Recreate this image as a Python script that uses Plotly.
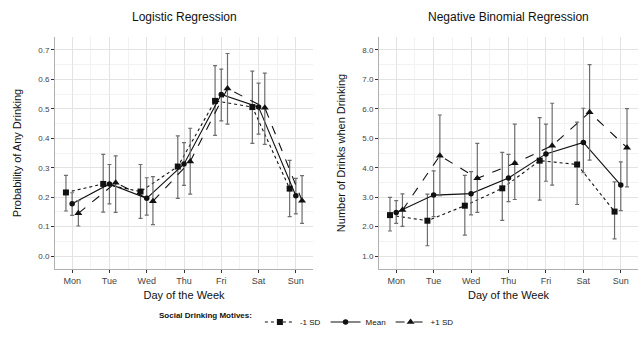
import plotly.graph_objects as go

days = ["Mon", "Tue", "Wed", "Thu", "Fri", "Sat", "Sun"]
series_names = ["-1 SD", "Mean", "+1 SD"]

# Logistic regression: probability of any drinking
low_p = [0.216, 0.245, 0.219, 0.304, 0.527, 0.506, 0.229]
low_p_lo = [0.153, 0.149, 0.128, 0.196, 0.410, 0.383, 0.134]
low_p_hi = [0.274, 0.345, 0.311, 0.408, 0.647, 0.628, 0.325]
mean_p = [0.178, 0.245, 0.196, 0.313, 0.549, 0.506, 0.205]
mean_p_lo = [0.138, 0.177, 0.139, 0.240, 0.459, 0.414, 0.143]
mean_p_hi = [0.215, 0.311, 0.266, 0.385, 0.635, 0.587, 0.264]
high_p = [0.145, 0.249, 0.186, 0.321, 0.569, 0.504, 0.188]
high_p_lo = [0.102, 0.148, 0.107, 0.210, 0.448, 0.379, 0.111]
high_p_hi = [0.188, 0.340, 0.270, 0.434, 0.688, 0.621, 0.273]

# Negative binomial regression: number of drinks when drinking
low_n = [2.39, 2.20, 2.71, 3.30, 4.24, 4.11, 2.51]
low_n_lo = [1.85, 1.35, 1.71, 2.21, 2.90, 2.75, 1.58]
low_n_hi = [2.99, 3.10, 3.74, 4.52, 5.70, 5.55, 3.52]
mean_n = [2.48, 3.07, 3.12, 3.65, 4.47, 4.86, 3.41]
mean_n_lo = [2.11, 2.34, 2.40, 2.85, 3.54, 3.83, 2.54]
mean_n_hi = [2.88, 3.89, 3.87, 4.45, 5.48, 6.02, 4.20]
high_n = [2.56, 4.41, 3.64, 4.15, 4.75, 5.88, 4.68]
high_n_lo = [2.01, 3.05, 2.48, 2.92, 3.41, 4.26, 3.35]
high_n_hi = [3.11, 5.79, 4.83, 5.48, 6.19, 7.50, 6.01]

p_ticks = [0.0, 0.1, 0.2, 0.3, 0.4, 0.5, 0.6, 0.7]
n_ticks = [1.0, 2.0, 3.0, 4.0, 5.0, 6.0, 7.0, 8.0]

dodge = [-1 / 6, 0.0, 1 / 6]
dashes = ["dot", "solid", "dash"]
symbols = ["square", "circle", "triangle-up"]
msizes = [6, 5.5, 7]

FONT = "Liberation Sans, Arial, sans-serif"
fig = go.Figure()

panels = [
    ("x", "y", [(low_p, low_p_lo, low_p_hi), (mean_p, mean_p_lo, mean_p_hi), (high_p, high_p_lo, high_p_hi)]),
    ("x2", "y2", [(low_n, low_n_lo, low_n_hi), (mean_n, mean_n_lo, mean_n_hi), (high_n, high_n_lo, high_n_hi)]),
]

for pi, (xa, ya, groups) in enumerate(panels):
    for si, (vals, lo, hi) in enumerate(groups):
        xs = [i + 1 + dodge[si] for i in range(len(days))]
        fig.add_trace(go.Scatter(
            x=xs, y=vals, xaxis=xa, yaxis=ya,
            mode="lines+markers",
            name=series_names[si],
            legendgroup=series_names[si],
            showlegend=(pi == 0),
            line=dict(color="#111111", width=1.1, dash=dashes[si]),
            marker=dict(symbol=symbols[si], size=msizes[si], color="#111111"),
            error_y=dict(type="data", symmetric=False,
                         array=[h - v for h, v in zip(hi, vals)],
                         arrayminus=[v - l for v, l in zip(vals, lo)],
                         color="#6e6e6e", thickness=1.2, width=2),
        ))

L, R, T, B = 55, 3, 37, 71
W, H = 641, 340
pw = W - L - R
ph = H - T - B
dom1 = [0, (313 - L) / pw]
dom2 = [(379 - L) / pw, 1]

def xaxis(domain, anchor):
    return dict(
        domain=domain, anchor=anchor, range=[0.54, 7.46], automargin=False,
        tickmode="array", tickvals=list(range(1, 8)), ticktext=days,
        showgrid=True, gridcolor="#e3e3e3", gridwidth=1,
        minor=dict(tickmode="array", tickvals=[i + 0.5 for i in range(0, 8)],
                   showgrid=True, gridcolor="#f2f2f2", gridwidth=1, ticks=""),
        showline=True, linecolor="#b0b0b0", linewidth=1,
        ticks="outside", ticklen=3, tickcolor="#333333",
        tickfont=dict(size=9, color="#444444", family=FONT),
        title=dict(text="Day of the Week", font=dict(size=11, color="#111111", family=FONT), standoff=6),
        zeroline=False,
    )

def yaxis(anchor, rng, tickvals, fmt, title):
    step = tickvals[1] - tickvals[0]
    return dict(
        domain=[0, 1], anchor=anchor, range=rng, automargin=False,
        tickmode="array", tickvals=tickvals, ticktext=[fmt.format(t) for t in tickvals],
        showgrid=True, gridcolor="#e3e3e3", gridwidth=1,
        minor=dict(tickmode="array",
                   tickvals=[tickvals[0] - step / 2] + [t + step / 2 for t in tickvals],
                   showgrid=True, gridcolor="#f2f2f2", gridwidth=1, ticks=""),
        showline=True, linecolor="#b0b0b0", linewidth=1,
        ticks="outside", ticklen=3, tickcolor="#333333",
        tickfont=dict(size=8, color="#444444", family=FONT),
        title=dict(text=title, font=dict(size=11, color="#111111", family=FONT), standoff=14),
        zeroline=False,
    )

fig.update_layout(
    width=W, height=H,
    margin=dict(l=L, r=R, t=T, b=B, autoexpand=False),
    paper_bgcolor="white", plot_bgcolor="white",
    font=dict(family=FONT, color="#111111"),
    xaxis=xaxis(dom1, "y"),
    xaxis2=xaxis(dom2, "y2"),
    yaxis=yaxis("x", [-0.044, 0.744], p_ticks, "{:.1f}", "Probability of Any Drinking"),
    yaxis2=yaxis("x2", [0.56, 8.44], n_ticks, "{:.1f}", "Number of Drinks when Drinking"),
    showlegend=True,
    legend=dict(
        orientation="h", x=(308 - L) / pw, xanchor="center",
        y=(269 - 322) / ph, yanchor="middle",
        title=dict(text="<b>Social Drinking Motives:</b>", side="left", font=dict(size=8, family=FONT)),
        font=dict(size=8, family=FONT), itemwidth=30,
        bgcolor="rgba(0,0,0,0)",
    ),
    annotations=[
        dict(text="Logistic Regression", xref="x domain", yref="paper", x=0.5, y=(269 - 17) / ph,
             xanchor="center", yanchor="middle", showarrow=False, font=dict(size=12, family=FONT, color="#111111")),
        dict(text="Negative Binomial Regression", xref="x2 domain", yref="paper", x=0.5, y=(269 - 17) / ph,
             xanchor="center", yanchor="middle", showarrow=False, font=dict(size=12, family=FONT, color="#111111")),
    ],
)

fig.write_html("out.html", config={"displayModeBar": False},
               post_script="document.body.style.margin='0px';document.body.style.overflow='hidden';")
